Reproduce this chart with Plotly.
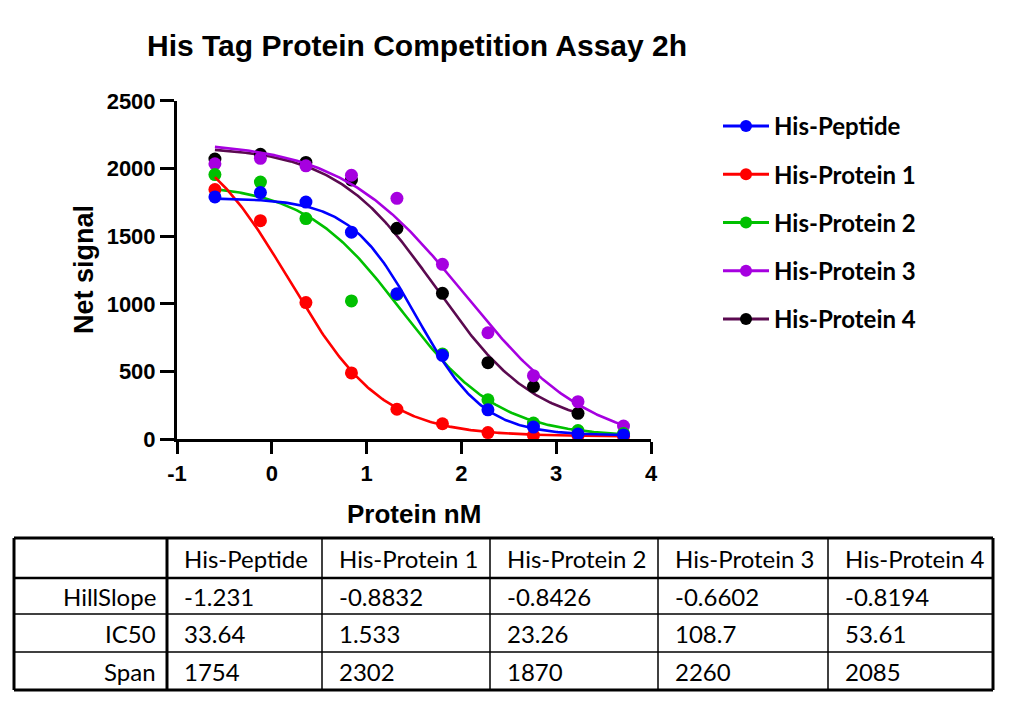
import numpy as np
import plotly.graph_objects as go

# log10 of protein concentration (nM)
log_conc = [-0.60, -0.12, 0.36, 0.84, 1.32, 1.80, 2.28, 2.76, 3.23, 3.71]

series_names = ["His-Peptide", "His-Protein 1", "His-Protein 2", "His-Protein 3", "His-Protein 4"]
peptide = [1790, 1822, 1752, 1530, 1075, 620, 218, 90, 40, 32]
protein1 = [1845, 1615, 1010, 490, 222, 115, 50, 30, 28, 22]
protein2 = [1955, 1900, 1630, 1022, 1070, 630, 292, 120, 65, 42]
protein3 = [2035, 2075, 2020, 1950, 1780, 1292, 787, 470, 278, 98]
protein4 = [2070, 2105, 2045, 1915, 1558, 1078, 566, 390, 192]

# fit results (table) + bottom plateau
hill_slope = [-1.231, -0.8832, -0.8426, -0.6602, -0.8194]
ic50 = [33.64, 1.533, 23.26, 108.7, 53.61]
span = [1754, 2302, 1870, 2260, 2085]
bottom = [28, 22, 18, -60, 78]

x_ticks = [-1, 0, 1, 2, 3, 4]
x_tick_text = ["-1", "0", "1", "2", "3", "4"]

row_labels = ["HillSlope", "IC50", "Span"]
hill_text = ["-1.231", "-0.8832", "-0.8426", "-0.6602", "-0.8194"]
ic50_text = ["33.64", "1.533", "23.26", "108.7", "53.61"]
span_text = ["1754", "2302", "1870", "2260", "2085"]

point_colors = ["#0000FF", "#FF0000", "#00C000", "#A600E0", "#000000"]
curve_colors = ["#0000FF", "#FF0000", "#00C000", "#A600E0", "#5B0A50"]

W, H = 1012, 709
OFF = 8  # page body margin
def px(x):
    return (x - OFF) / W
def py(y):
    return 1 - (y - OFF) / H

data = [peptide, protein1, protein2, protein3, protein4]

fig = go.Figure()

# draw last series first so the peptide ends up on top
for i in reversed(range(5)):
    xs = log_conc[:len(data[i])]
    xf = np.linspace(min(xs), max(xs), 250)
    yf = bottom[i] + span[i] / (1 + 10 ** ((np.log10(ic50[i]) - xf) * hill_slope[i]))
    fig.add_trace(go.Scatter(x=xf, y=yf, mode="lines", showlegend=False,
                             line=dict(color=curve_colors[i], width=2.6), hoverinfo="skip"))
    fig.add_trace(go.Scatter(x=xs, y=data[i], mode="markers", showlegend=False, name=series_names[i],
                             marker=dict(color=point_colors[i], size=13)))

# legend entries
for i in range(5):
    fig.add_trace(go.Scatter(x=[None], y=[None], mode="lines+markers", name=series_names[i],
                             legendgroup=series_names[i], legendrank=i + 1,
                             line=dict(color=curve_colors[i], width=3),
                             marker=dict(color=point_colors[i], size=12)))

axis_font = dict(family="Liberation Sans, Arial", size=22, color="black", weight="bold")

fig.update_xaxes(domain=[px(177), px(651)], range=[-1, 4], tickvals=x_ticks, ticktext=x_tick_text,
                 showline=True, linewidth=3, linecolor="black", ticks="outside",
                 ticklen=12, tickwidth=3, tickcolor="black", showgrid=False, zeroline=False,
                 tickfont=axis_font)
fig.update_yaxes(domain=[py(439.3), py(100.8)], range=[0, 2500], dtick=500,
                 showline=True, linewidth=3, linecolor="black", ticks="outside",
                 ticklen=14, tickwidth=3, tickcolor="black", showgrid=False, zeroline=False,
                 tickfont=axis_font)

annotations = [
    dict(text="His Tag Protein Competition Assay 2h", x=px(417), y=py(45), xref="paper", yref="paper",
         xanchor="center", yanchor="middle", showarrow=False,
         font=dict(family="Liberation Sans, Arial", size=30, color="black", weight="bold")),
    dict(text="Protein nM", x=px(414), y=py(514), xref="paper", yref="paper",
         xanchor="center", yanchor="middle", showarrow=False,
         font=dict(family="Liberation Sans, Arial", size=26, color="black", weight="bold")),
    dict(text="Net signal", x=px(84), y=py(270), xref="paper", yref="paper",
         xanchor="center", yanchor="middle", showarrow=False, textangle=-90,
         font=dict(family="Liberation Sans, Arial", size=27, color="black", weight="bold")),
]

# table drawn with lines + text
col_edges = [14, 167, 322, 490, 658, 828, 993]
row_edges = [538, 578, 614, 652, 690]
shapes = []
for j, xe in enumerate(col_edges):
    w = 3 if j in (0, 1, len(col_edges) - 1) else 1.5
    shapes.append(dict(type="line", xref="paper", yref="paper", x0=px(xe), x1=px(xe),
                       y0=py(row_edges[0]), y1=py(row_edges[-1]), line=dict(color="black", width=w)))
for k, ye in enumerate(row_edges):
    w = 3 if k in (0, len(row_edges) - 1) else (2.5 if k == 1 else 1.5)
    shapes.append(dict(type="line", xref="paper", yref="paper", x0=px(col_edges[0]), x1=px(col_edges[-1]),
                       y0=py(ye), y1=py(ye), line=dict(color="black", width=w)))

table_font = dict(family="Lato, Noto Sans", size=24, color="black")
def cell(text, col, row, right=False):
    yc = (row_edges[row] + row_edges[row + 1]) / 2
    if right:
        return dict(text=text, x=px(col_edges[col + 1] - 9), y=py(yc), xanchor="right", yanchor="middle",
                    xref="paper", yref="paper", showarrow=False, font=table_font)
    return dict(text=text, x=px(col_edges[col] + 15), y=py(yc), xanchor="left", yanchor="middle",
                xref="paper", yref="paper", showarrow=False, font=table_font)

for i, name in enumerate(series_names):
    annotations.append(cell(name, i + 1, 0))
for r, (lab, vals) in enumerate(zip(row_labels, [hill_text, ic50_text, span_text])):
    annotations.append(cell(lab, 0, r + 1, right=True))
    for i, v in enumerate(vals):
        annotations.append(cell(v, i + 1, r + 1))

fig.update_layout(
    width=W, height=H, autosize=False,
    margin=dict(l=0, r=0, t=0, b=0, autoexpand=False),
    plot_bgcolor="white", paper_bgcolor="white",
    annotations=annotations, shapes=shapes,
    legend=dict(x=px(718), y=py(104), xanchor="left", yanchor="top",
                font=dict(family="Lato, Noto Sans", size=24, color="black", weight="bold"),
                tracegroupgap=14, itemwidth=46, bgcolor="rgba(0,0,0,0)"),
)

fig.write_html("out.html")
